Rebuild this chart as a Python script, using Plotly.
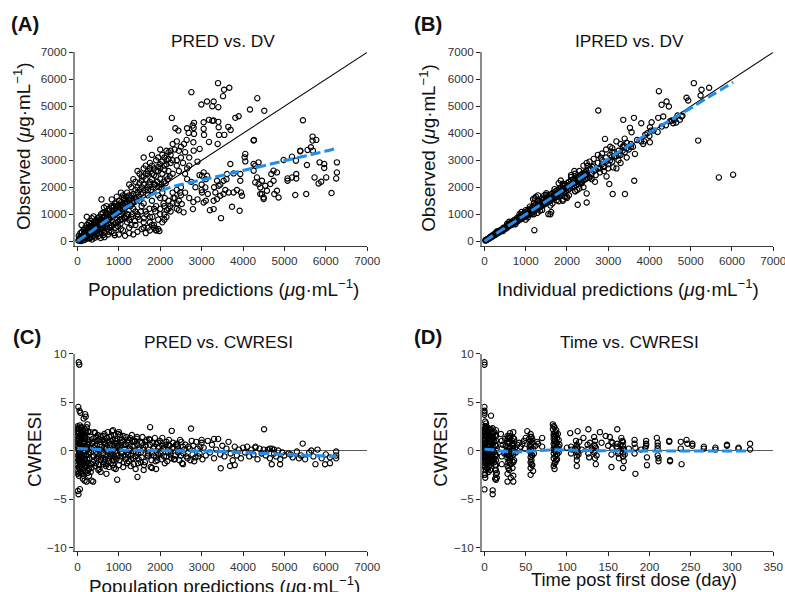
import plotly.graph_objects as go

# ---------------- Panel A : PRED vs DV ----------------
a_pred = [
    20, 40, 60, 80, 100, 120, 140, 160, 180, 200,
    220, 240, 260, 280, 300, 320, 340, 360, 380, 400,
    420, 440, 460, 480, 500, 520, 540, 560, 580, 600,
    30, 70, 110, 150, 190, 230, 270, 310, 350, 390,
    50, 90, 130, 170, 210, 250, 290, 330, 370, 410,
    450, 490, 530, 570, 610, 100, 225, 220, 300, 350,
    420, 500, 560, 620, 650,
    620, 650, 680, 700, 720, 740, 760, 780, 800, 820,
    840, 860, 880, 900, 920, 940, 960, 980, 1000, 1020,
    1040, 1060, 1080, 1100, 1120, 1140, 1160, 1180, 1200, 640,
    700, 760, 830, 880, 950, 1000, 1050, 580, 660, 740,
    820, 900, 700, 800, 900, 1000, 1100, 650, 750, 850,
    950, 1050, 1150, 1250, 1350, 1450, 1550, 1650, 1150, 980,
    1250, 1300, 1350, 1400, 1450, 1500, 1550, 1600, 1650, 1700,
    1750, 1800, 1850, 1900, 1950, 2000, 2050, 2100, 2150, 2200,
    2250, 2300, 2350, 2400, 2450, 2500, 1300, 1400, 1500, 1600,
    1700, 1800, 1900, 2000, 2100, 2200, 2300, 2400, 1350, 1450,
    1550, 1650, 1750, 1850, 1950, 2050, 2150, 2250, 1750, 1600,
    1800, 2000, 2300, 2280, 2150, 2400, 1250, 1200, 1100, 1050,
    1200, 1250, 1300, 1350, 1400, 1450, 1500, 1550, 1600, 1650,
    1700, 1750, 1800, 1850, 1900, 1950, 2000, 2050, 2100, 2150,
    2200, 2250, 2300, 2350, 2400, 2450, 2500, 1300, 1400, 1600,
    1800, 1900, 1950, 1850, 1750, 2000, 2100, 2200, 2300, 2400,
    2500, 2100, 2050, 1700, 1500, 1750, 1900, 1980, 1600, 1850,
    300, 350, 400, 450, 500, 550, 600, 650, 700, 750,
    260, 310, 360, 410, 460, 510, 560, 610, 660, 710,
    800, 850, 900, 950, 1000, 1050, 1100, 1150, 1200, 1250,
    780, 830, 880, 930, 980, 1030, 1080, 1130, 1180, 1230,
    1300, 1350, 1400, 1450, 1500, 1550, 1600, 1650, 1700, 1750,
    1280, 1330, 1380, 1430, 1480, 1530, 1580, 1630, 1680, 1730,
    1800, 1850, 1900, 1950, 2000, 2050, 2100, 2150, 2200, 2250,
    1780, 1830, 1880, 1930, 1980, 2030, 2080, 2130, 2180, 2230,
    1250, 1320, 1390, 1460, 1530, 1600, 1670, 1740, 1810, 1880,
    2000, 2080, 2160, 2240, 2320, 2400, 2480, 1950, 2030, 2110,
    700, 760, 820, 880, 940, 1000, 1060, 1120, 1180, 1240,
    150, 200, 250, 300, 350, 400, 450, 500, 550, 600,
    3396, 2752, 3541, 3669, 3517, 3130, 3290, 2993, 3258, 3403,
    4345, 4168, 4514, 3814, 3894, 3178, 3258, 3290, 3403, 2816,
    3049, 2365, 2438, 2647, 2783, 2807, 2686, 2816, 3049, 3411,
    3645, 3700, 3058, 3420, 3548, 2638, 2800, 2575, 3178, 3387,
    4265, 2807, 2952, 5448, 5680, 5680, 5769, 5640, 5559, 5383,
    5688, 2600, 2700, 2550, 2650, 2900, 2500, 2450, 2600, 2700,
    4256, 4055, 4039, 4055, 5383, 5182, 5279, 4980, 5544, 5849,
    5962, 5962, 6268, 6268, 6251, 6138, 5728, 5825, 5889, 6010,
    5527, 5262, 5182, 5286, 5286, 5076, 5076, 4738, 4820, 4683,
    4738, 4659, 4820, 4755, 4859, 4578, 4498, 4417, 4256, 4296,
    4376, 4256, 4337, 4296, 4376, 4457, 4417, 4538, 4457, 4498,
    3934, 3951, 3975, 3854, 3773, 3652, 3572, 3531, 3451, 3331,
    3372, 3290, 3290, 3734, 3918, 3468, 3049, 3009, 3130, 3089,
    3009, 3049, 3372, 3411, 3531, 3613, 3773, 3934, 3693, 2565,
    2790, 2520, 2450, 2700, 2600, 2900, 2750, 2850, 2650, 2950,
    2800, 3100, 3150, 3200, 3000, 3000, 3100, 3300, 3450, 3600,
]
a_dv = [
    30, 80, 20, 150, 60, 200, 110, 40, 260, 150,
    90, 330, 200, 120, 380, 260, 160, 450, 300, 200,
    520, 380, 260, 600, 450, 300, 700, 520, 350, 800,
    200, 300, 350, 420, 500, 600, 680, 750, 850, 920,
    130, 10, 90, 320, 240, 460, 560, 640, 560, 700,
    780, 860, 900, 1000, 1050, 600, 905, 420, 100, 60,
    130, 180, 120, 220, 150,
    600, 900, 1100, 750, 450, 1000, 1200, 850, 600, 1300,
    950, 700, 1150, 1400, 500, 1050, 800, 1250, 1500, 900,
    650, 1350, 1100, 400, 1600, 1200, 850, 1450, 1000, 1250,
    1300, 350, 1550, 300, 1650, 250, 450, 1550, 300, 250,
    350, 220, 1000, 1000, 1000, 1100, 1300, 700, 800, 1100,
    1300, 1000, 1500, 300, 250, 350, 450, 300, 200, 550,
    1700, 2000, 1500, 2200, 1800, 2500, 2000, 2700, 2300, 1900,
    2900, 2500, 2100, 3000, 2600, 2300, 3200, 2800, 2400, 3300,
    2900, 2500, 3400, 3000, 2600, 3100, 1700, 1600, 1900, 2100,
    2500, 2800, 2400, 2700, 3100, 2600, 3000, 2800, 2300, 2600,
    2400, 2800, 2200, 2700, 3100, 2500, 3000, 3350, 3800, 3100,
    3200, 3400, 3600, 4570, 3350, 3700, 2100, 1800, 1700, 1800,
    700, 500, 900, 1200, 600, 1000, 800, 1300, 700, 1100,
    500, 900, 600, 1200, 400, 800, 1000, 700, 1300, 900,
    1500, 1100, 1400, 1600, 1200, 1500, 1700, 600, 1100, 1400,
    1500, 1300, 450, 500, 700, 1600, 1000, 1200, 1800, 1900,
    2000, 800, 1800, 1700, 1500, 400, 420, 380, 500, 600,
    300, 420, 380, 520, 560, 600, 680, 750, 820, 900,
    180, 240, 300, 330, 380, 420, 450, 500, 520, 560,
    900, 980, 1050, 1150, 1200, 1250, 1350, 1400, 1450, 1550,
    500, 560, 620, 680, 720, 780, 820, 880, 920, 980,
    1600, 1750, 1900, 2000, 2150, 2250, 2400, 2500, 2600, 2700,
    1300, 1400, 1450, 1550, 1650, 1750, 1800, 1900, 2000, 2100,
    2300, 2450, 2600, 2750, 2850, 2950, 2650, 2850, 3050, 3200,
    1900, 2000, 2100, 2200, 2000, 2100, 2200, 2150, 2300, 2400,
    800, 1000, 750, 900, 1100, 850, 1000, 1200, 900, 1100,
    1200, 1400, 1150, 1300, 1600, 1400, 1800, 1700, 2000, 1600,
    1050, 1150, 1250, 1300, 1400, 1350, 1450, 1550, 1650, 1500,
    250, 350, 400, 480, 530, 620, 700, 760, 820, 900,
    5859, 5524, 5613, 5688, 5376, 5178, 5178, 5067, 5004, 4967,
    5301, 4881, 4833, 4572, 4632, 4498, 4461, 4472, 4424, 4387,
    4409, 4186, 4100, 4186, 4286, 4201, 4015, 3978, 4164, 4223,
    4238, 4126, 3941, 3941, 3941, 3755, 3666, 3606, 3680, 3606,
    3755, 3357, 3420, 4483, 3877, 3729, 3755, 3480, 3383, 3357,
    3357, 3300, 3100, 2900, 2700, 2950, 3500, 3350, 2500, 2800,
    3729, 3234, 3108, 2959, 3331, 3133, 2985, 3011, 2825, 2922,
    2862, 2714, 2922, 2550, 2327, 1784, 2364, 2141, 2204, 2364,
    1747, 1710, 2364, 2490, 2327, 2242, 2327, 2613, 2550, 2490,
    2242, 2119, 1870, 1747, 1621, 1870, 1621, 1747, 2862, 2799,
    2922, 2613, 2364, 2178, 2119, 2242, 1993, 2056, 1747, 1561,
    2242, 1807, 1684, 1896, 1807, 1807, 1896, 1747, 1684, 1807,
    1561, 1498, 1190, 1275, 1126, 855, 2550, 2427, 2427, 1993,
    1807, 1435, 2242, 2056, 2242, 2490, 2513, 2490, 2862, 1070,
    1190, 1380, 1150, 1600, 1800, 1550, 2200, 2000, 2300, 2450,
    1450, 1500, 1750, 1150, 1900, 2100, 2300, 2000, 2100, 2300,
]
a_loess_x = [0, 250, 500, 750, 1000, 1250, 1500, 1750, 2000, 2250, 2500, 3000, 3500, 4000, 4500, 5000, 5500, 6000, 6200]
a_loess_y = [0, 270, 550, 820, 1090, 1320, 1520, 1690, 1850, 1995, 2100, 2270, 2440, 2620, 2800, 2980, 3160, 3340, 3420]

# ---------------- Panel B : IPRED vs DV ----------------
b_ipred = [
    20, 45, 60, 85, 110, 130, 160, 175, 200, 230,
    250, 270, 300, 320, 345, 370, 390, 410, 440, 460,
    480, 510, 530, 555, 580, 600, 625, 650, 670, 700,
    720, 740, 770, 790, 815, 840, 860, 885, 905, 930,
    950, 975, 1000, 1020, 1045, 1070, 1090, 1115, 1140, 1160,
    1180, 1210, 1230, 1255, 1280, 1300, 1330, 1350, 1370, 1400,
    1420, 1445, 1470, 1490, 1515, 1540, 1560, 1585, 1610, 1630,
    1655, 1680, 1700, 1725, 1750, 1770, 1795, 1820, 1840, 1865,
    1890, 1910, 1935, 1960, 1980, 2005, 2030, 2050, 2075, 2100,
    2120, 2145, 2170, 2190, 2215, 2240, 2260, 2285, 2310, 2330,
    2355, 2380, 2400, 2425, 2450, 2470, 2495, 2520, 2545, 2570,
    60, 150, 240, 330, 420, 510, 600, 690, 780, 870,
    960, 1050, 1140, 1230, 1320, 1410, 1500, 1590, 1680, 1770,
    1860, 1950, 2040, 2130, 2220, 2310, 2400, 2490, 100, 200,
    300, 450, 600, 750, 900, 1050, 1200, 1350, 1500, 1650,
    1800, 1950, 2100, 2250, 2400, 550, 850, 1150, 1450, 1750,
    1280, 1600, 1900, 2200, 1400, 1700, 2000, 2300, 1000, 1850,
    1180, 1250, 1300, 1220, 1550, 1620, 1900, 2050, 2180, 2350,
    30, 80, 130, 180, 230, 280, 330, 380, 430, 480,
    530, 580, 630, 680, 730, 780, 830, 880, 930, 980,
    1030, 1080, 1130, 1180, 1230, 1280, 1330, 1380, 1430, 1480,
    1530, 1580, 1630, 1680, 1730, 1780, 1830, 1880, 1930, 1980,
    2030, 2080, 2130, 2180, 2230, 2280, 2330, 2380, 2430, 2480,
    1000, 1100, 1200, 1300, 1400, 1500, 1600, 1700, 1800, 1900,
    2000, 2100, 2200, 2300, 2400, 2500, 2200, 2350, 2450, 2550,
    2650, 2750, 2850, 2950, 3050, 3150, 3250, 3350, 3450, 3550,
    2600, 2650, 2700, 2750, 2800, 2850, 2900, 2950, 3000, 3050,
    3100, 3150, 3200, 3250, 3300, 3350, 3400, 3450, 3500, 3550,
    3600, 3700, 3800, 3900, 4000, 4100, 4200, 4300, 4400, 4500,
    2600, 2700, 2800, 2900, 3000, 2650, 2750, 2850, 2950, 3050,
    2550, 2680, 2820, 2960, 3100, 3200, 3250, 3300, 3380, 3450,
    3200, 3300, 3100, 3400, 4600, 4650, 4800, 3950, 2480, 2620,
    2760, 4230, 5077, 5264, 5448, 4900, 4940, 5240, 4416, 4472,
    4295, 3366, 3625, 3802, 3528, 3568, 2923, 5182, 4738, 4682,
    4780, 4537, 4576, 4335, 4213, 4012, 4036, 4053, 4012, 3850,
    3874, 3649, 3085, 3124, 3027, 3109, 3407, 3632, 2479, 2479,
    2261, 1210, 5683, 6029,
]
b_dv = [
    25, 35, 70, 80, 95, 150, 140, 200, 180, 250,
    220, 300, 280, 350, 310, 400, 360, 430, 400, 500,
    450, 530, 470, 600, 540, 650, 580, 690, 610, 760,
    680, 800, 700, 860, 750, 900, 800, 960, 830, 1000,
    880, 1060, 930, 1100, 960, 1170, 1000, 1200, 1050, 1250,
    1100, 1320, 1150, 1380, 1200, 1400, 1240, 1460, 1290, 1520,
    1330, 1560, 1380, 1600, 1420, 1660, 1470, 1700, 1500, 1760,
    1560, 1810, 1590, 1850, 1640, 1900, 1680, 1950, 1720, 2000,
    1770, 2050, 1800, 2100, 1860, 2150, 1900, 2200, 1950, 2260,
    1990, 2290, 2040, 2330, 2080, 2380, 2120, 2420, 2170, 2460,
    2210, 2520, 2250, 2550, 2300, 2600, 2340, 2650, 2390, 2700,
    55, 155, 230, 335, 410, 505, 610, 680, 790, 860,
    975, 1040, 1150, 1220, 1335, 1400, 1510, 1580, 1700, 1760,
    1880, 1930, 2060, 2120, 2240, 2300, 2420, 2480, 105, 195,
    360, 380, 720, 630, 1080, 880, 1420, 1130, 1780, 1400,
    2150, 1650, 2450, 1900, 2800, 650, 1000, 1000, 1700, 1520,
    1050, 1000, 1550, 1850, 1580, 1720, 1600, 1950, 1150, 2250,
    1560, 1650, 1700, 1600, 1004, 1080, 1500, 1700, 2600, 2150,
    40, 70, 140, 170, 240, 260, 340, 370, 430, 470,
    520, 600, 610, 700, 720, 770, 850, 860, 950, 960,
    1050, 1060, 1160, 1160, 1250, 1260, 1360, 1350, 1450, 1460,
    1560, 1550, 1660, 1650, 1760, 1750, 1860, 1850, 1960, 1950,
    2060, 2050, 2170, 2150, 2270, 2250, 2370, 2350, 2470, 2450,
    800, 1280, 1000, 1500, 1160, 1720, 1320, 1930, 1480, 2130,
    1650, 2380, 1850, 2600, 2000, 2800, 2500, 2150, 2550, 2350,
    2600, 2700, 2850, 2950, 3000, 3150, 3200, 3350, 3450, 3500,
    2500, 2800, 2650, 2900, 2700, 3000, 2750, 3100, 2850, 3200,
    2950, 3300, 3150, 3350, 3200, 3500, 3300, 3650, 3400, 3600,
    3500, 3750, 3700, 3950, 3900, 4100, 4050, 4250, 4300, 4450,
    2300, 2450, 2550, 2600, 2700, 3050, 3200, 3250, 3400, 3500,
    2950, 2200, 3100, 2400, 3300, 2700, 3000, 2900, 3550, 3100,
    3700, 3600, 3450, 3800, 4500, 4400, 4650, 4000, 2900, 2750,
    4844, 5561, 5859, 5613, 5688, 5316, 5216, 5400, 5178, 4993,
    5056, 4498, 4572, 4372, 4201, 4037, 3792, 3729, 4498, 4658,
    4621, 4472, 4372, 4621, 4572, 4223, 4100, 4409, 3666, 3606,
    3703, 3234, 3108, 2736, 2119, 1747, 1747, 2242, 1770, 1435,
    1349, 409, 2364, 2465,
]
b_loess_x = [0, 1000, 2000, 3000, 4000, 4500, 5000, 5500, 6030]
b_loess_y = [0, 990, 1990, 3050, 4020, 4480, 4930, 5400, 5890]

identity_x = [0, 7000]
identity_y = [0, 7000]

# ---------------- Panel C : PRED vs CWRESI ----------------
c_pred = [
    5, 12, 3, 18, 8, 25, 10, 15, 4, 20,
    30, 38, 28, 45, 33, 40, 35, 50, 42, 36,
    60, 75, 65, 80, 70, 85, 62, 78, 68, 90,
    110, 125, 105, 130, 115, 140, 120, 135, 100, 128,
    170, 185, 160, 190, 175, 200, 165, 195, 180, 172,
    240, 255, 230, 260, 245, 270, 235, 265, 250, 280,
    15, 55, 95, 145, 210, 275, 22, 88, 160, 230,
    8, 22, 35, 48, 58, 72, 95, 115, 140, 165,
    185, 205, 225, 245, 265, 285, 12, 40, 85, 150,
    5, 18, 32, 52, 68, 82, 100, 118, 138, 158,
    178, 198, 218, 238, 258, 278, 298, 318, 338, 358,
    310, 340, 370, 400, 430, 460, 490, 520, 550, 580,
    320, 355, 385, 415, 445, 475, 505, 535, 565, 595,
    380, 410, 440, 470, 500, 530, 560, 590, 620, 650,
    395, 425, 455, 485, 515, 545, 575, 605, 635, 665,
    610, 640, 670, 700, 730, 760, 790, 820, 850, 880,
    625, 655, 685, 715, 745, 775, 805, 835, 865, 895,
    680, 710, 740, 770, 800, 830, 860, 890, 920, 950,
    695, 725, 755, 785, 815, 845, 875, 905, 935, 965,
    910, 940, 970, 1000, 1030, 1060, 1090, 1120, 1150, 1180,
    925, 955, 985, 1015, 1045, 1075, 1105, 1135, 1165, 1195,
    990, 1020, 1050, 1080, 1110, 1140, 1170, 1200, 1230, 1260,
    1210, 1240, 1270, 1300, 1330, 1360, 1390, 1420, 1450, 1480,
    1225, 1255, 1285, 1315, 1345, 1375, 1405, 1435, 1465, 1495,
    1290, 1320, 1350, 1380, 1410, 1440, 1470, 1500, 1530, 1560,
    860, 880, 700, 560, 420, 380, 340, 960, 1450, 1000,
    1510, 1550, 1590, 1630, 1670, 1710, 1750, 1790, 1830, 1870,
    1530, 1570, 1610, 1650, 1690, 1730, 1770, 1810, 1850, 1890,
    1600, 1650, 1700, 1750, 1800, 1850, 1900, 1950, 2000, 2050,
    1910, 1950, 1990, 2030, 2070, 2110, 2150, 2190, 2230, 2270,
    1930, 1970, 2010, 2050, 2090, 2130, 2170, 2210, 2250, 2290,
    2100, 2150, 2200, 2250, 2300, 2350, 2400, 2450, 2500, 2550,
    2310, 2360, 2410, 2460, 2510, 2560, 2610, 2660, 2710, 2760,
    2330, 2380, 2430, 2480, 2530, 2580, 2630, 2680, 2730, 2780,
    2800, 2850, 2900, 2950, 3000, 2820, 2870, 2920, 2970, 3020,
    1755, 2278, 2744, 1800, 1900, 2550, 1600,
    3050, 3100, 3150, 3200, 3250, 3300, 3350, 3400, 3450, 3500,
    3550, 3600, 3650, 3700, 3750, 3800, 3850, 3900, 3950, 4000,
    4050, 4100, 4150, 4200, 4250, 4300, 4350, 4400, 4450, 4500,
    4550, 4600, 4650, 4700, 4750, 4800, 4850, 4900, 4950, 5000,
    5100, 5200, 5300, 5400, 5500, 5600, 5700, 5800, 5900, 6000,
    6100, 6250, 6250, 6250, 5650, 5750, 5350, 5150, 4750, 4650,
    3462, 3687, 4694, 4895, 5982, 4508, 5442, 3300, 3000, 6100,
    4300, 3800,
    30, 45, 20, 50, 70, 186, 200, 10, 25, 60,
    150, 220,
]
c_cwres = [
    2.5, 2.0, 1.5, 1.0, 0.5, 0.0, -0.5, -1.0, -1.5, -2.1,
    2.3, 1.8, 1.2, 0.7, 0.2, -0.3, -0.8, -1.3, -1.8, -2.6,
    2.6, 2.1, 1.6, 1.1, 0.6, 0.1, -0.4, -0.9, -1.6, -2.3,
    2.4, 1.9, 1.3, 0.8, 0.3, -0.2, -0.7, -1.2, -1.9, -2.9,
    2.2, 1.6, 1.0, 0.5, 0.0, -0.5, -1.0, -1.5, -2.1, -3.1,
    2.7, 1.9, 1.2, 0.6, 0.1, -0.4, -0.9, -1.4, -2.0, -2.6,
    0.3, -0.2, 0.4, -0.1, 0.35, -0.15, 1.3, -1.1, 1.4, -1.2,
    1.75, -1.75, 2.2, -2.3, 0.85, -0.65, 1.8, -2.4, 2.1, -1.8,
    1.3, -1.3, 2.4, -2.3, 0.9, -0.8, -2.4, -1.1, 0.35, -0.45,
    2.3, 0.8, -0.55, 1.45, -1.2, 2.35, -1.7, 1.6, -2.6, 0.65,
    -0.85, 1.9, -1.6, 0.4, 2.0, -1.9, 1.1, -0.2, -1.4, 0.7,
    1.9, -1.8, 1.2, -1.0, 0.5, -0.4, 1.6, -1.5, 0.9, -0.7,
    -2.2, 0.8, -0.6, 1.9, -1.3, 0.2, -2.0, 1.2, -0.9, 0.4,
    -1.2, 0.3, 1.4, -0.8, 0.1, -1.9, 1.5, 0.0, -1.4, 1.7,
    0.9, -1.6, -0.1, 1.0, -0.6, 0.6, -1.0, 1.1, 0.3, -0.9,
    1.5, -1.2, 0.7, -0.5, 1.9, -1.7, 0.3, -0.2, 1.1, -1.0,
    -0.3, 0.9, -1.6, 1.3, -0.8, 0.6, -1.3, 2.0, -0.4, 0.8,
    0.2, 1.0, -1.1, 1.4, -0.6, 0.5, -1.5, 1.6, -0.1, 0.7,
    -1.4, -0.1, 0.9, -0.4, 1.5, -1.0, 0.1, -0.7, 1.0, -0.5,
    1.2, -0.9, 0.5, -1.5, 1.6, -0.3, 0.9, -1.2, 0.2, 1.4,
    -1.9, 0.3, 1.7, 0.1, -0.6, 1.1, -1.7, 0.6, -0.9, -0.2,
    0.4, -1.0, 0.8, -0.2, 1.5, -0.5, 0.6, -1.3, 1.1, 0.0,
    0.8, -1.1, 1.3, -0.5, 0.4, -1.4, 1.0, -0.2, 0.6, -0.9,
    -0.4, 0.2, -1.6, 1.6, -0.8, 0.9, -1.9, 1.2, -1.3, 0.1,
    -0.9, 1.0, -0.1, 0.5, -0.6, 1.4, -0.3, 0.3, -1.2, 0.8,
    2.1, -1.8, -2.4, -2.2, 1.8, -3.2, -3.1, -3.0, -2.72, 1.9,
    0.9, -0.7, 0.3, -1.2, 1.1, -0.3, 0.6, -1.0, 0.2, 1.3,
    -0.2, 1.4, -1.5, 0.5, -0.6, 1.2, -1.7, 0.8, -0.5, -1.1,
    0.1, 0.9, -0.5, 1.1, -0.2, 0.4, -0.7, 0.8, -0.1, 0.5,
    0.7, -0.4, 1.0, -0.9, 0.3, -1.3, 0.9, -0.2, 0.5, -0.8,
    -1.0, 0.4, -0.3, 1.3, -0.6, 0.6, -1.1, 1.1, -0.4, 0.2,
    0.2, -0.6, 0.6, -0.1, 0.3, -0.9, 0.7, 0.0, -0.5, 0.4,
    0.8, -0.5, 0.4, -1.0, 0.9, -0.3, 0.6, -0.8, 0.2, 1.0,
    -0.9, 0.6, -0.2, 1.1, -1.3, 0.1, -0.6, 0.4, -1.0, -0.4,
    0.5, -0.7, 0.2, -0.3, 0.8, -1.1, 0.9, -0.6, 0.4, -0.9,
    2.41, 2.03, 2.27, -1.8, -1.9, -1.4, -2.0,
    0.3, -0.5, 1.0, -0.2, 0.6, -0.8, 0.1, 1.2, -0.4, 0.5,
    -0.6, 0.2, 0.9, -0.3, -1.0, 0.4, -0.5, 0.1, -0.8, 0.3,
    -0.2, 0.4, -0.6, 0.1, -0.4, 0.3, -0.9, 0.2, -0.3, 0.1,
    -0.5, 0.1, -0.8, 0.2, -0.3, -0.6, 0.0, -0.9, -0.2, -0.5,
    -0.3, -0.7, -0.1, -0.5, -0.9, -0.2, -0.6, 0.1, -0.8, -0.4,
    -0.7, -0.1, -0.5, -0.8, 0.0, -1.4, -0.8, -0.4, 0.1, 0.2,
    -1.83, -1.59, -1.41, -1.41, -1.41, 2.2, 0.72, 1.2, 1.1, -1.3,
    0.4, -1.5,
    9.1, 8.86, 4.5, 4.1, 3.9, 3.75, 3.5, -4.17, -4.5, -3.98,
    3.3, -3.2,
]
c_loess_x = [0, 500, 1000, 1500, 2000, 2500, 3000, 3500, 4000, 4500, 5000, 5500, 6000, 6250]
c_loess_y = [0.2, 0.12, 0.05, 0.02, 0.0, -0.03, -0.06, -0.1, -0.2, -0.3, -0.41, -0.48, -0.56, -0.6]

# ---------------- Panel D : Time vs CWRESI ----------------
d_time = [
    0, 0, 0, 0, 0, 0, 0, 0, 0, 0,
    1, 1, 1, 1, 1, 1, 1, 1, 1, 1,
    2, 2, 2, 2, 2, 2, 3, 3, 3, 3,
    4, 4, 4, 4, 4, 5, 5, 5, 5, 5,
    6, 6, 6, 6, 7, 7, 7, 7, 7, 8,
    8, 8, 8, 9, 9, 9, 10, 10, 10, 11,
    11, 12, 12, 13, 13, 14, 14, 14, 14, 14,
    14, 15, 14, 15, 13, 12, 21, 21, 21, 21,
    0, 0, 0, 0, 0, 0, 0, 0, 0, 1,
    1, 1, 1, 1, 2, 2, 2, 2, 2, 3,
    3, 3, 3, 4, 4, 4, 5, 5, 5, 6,
    6, 6, 7, 7, 8, 8, 9, 9, 10, 10,
    11, 11, 12, 12, 13, 13, 14, 14, 14, 14,
    20, 22, 24, 25, 26, 27, 28, 28, 28, 28,
    28, 28, 28, 29, 29, 29, 30, 30, 30, 30,
    31, 31, 31, 32, 32, 33, 33, 34, 34, 35,
    35, 35, 35, 35, 36, 36, 37, 38, 40, 42,
    28, 28, 29, 29, 30, 30, 31, 31, 34, 35,
    35, 35, 34, 33, 56, 56, 56, 57, 57, 58,
    44, 46, 48, 49, 50, 52, 54, 55, 56, 56,
    56, 56, 56, 56, 56, 56, 57, 57, 57, 58,
    58, 58, 59, 59, 60, 70, 70, 65, 62, 64,
    83, 83, 84, 84, 84, 84, 84, 84, 85, 85,
    85, 85, 85, 86, 86, 86, 86, 87, 87, 87,
    88, 88, 88, 89, 89, 90, 90, 90, 91, 84,
    84, 84, 85, 85, 86, 86, 87, 87, 88, 88,
    100, 104, 105, 105, 106, 110, 111, 112, 112, 112,
    112, 112, 113, 113, 114, 115, 118, 120, 125, 126,
    126, 126, 127, 128, 130, 133, 133, 133, 134, 134,
    135, 135, 136, 140, 142, 147, 150, 152, 154, 154,
    154, 155, 155, 160, 161, 161, 162, 163, 165, 166,
    167, 168, 168, 168, 168, 169, 169, 170, 175, 182,
    112, 113, 133, 134, 161, 162, 168, 168, 196, 210,
    182, 182, 183, 183, 190, 195, 196, 196, 197, 197,
    209, 210, 210, 210, 211, 211, 224, 224, 225, 225,
    238, 238, 239, 245, 246, 252, 252, 266, 266, 280,
    280, 294, 294, 308, 308, 322, 322, 0, 0, 0,
    0, 0, 0, 8, 10, 10, 0, 1, 2, 13,
]
d_cwres = [
    2.5, 2.0, 1.5, 1.0, 0.5, 0.0, -0.5, -1.0, -1.5, -2.0,
    2.3, 1.7, 1.2, 0.7, 0.2, -0.3, -0.8, -1.3, -2.5, -2.8,
    2.2, 1.4, 0.8, 0.3, -0.2, -1.1, 2.0, 0.6, -0.6, -1.8,
    1.9, 1.1, 0.4, -0.4, -1.4, 2.3, 1.3, 0.1, -0.7, -2.2,
    1.6, 0.5, -0.6, -1.6, 2.1, 1.0, 0.2, -0.9, -2.0, 1.5,
    0.3, -0.5, -1.3, 1.8, 0.0, -1.0, 2.3, 0.7, -0.3, 1.2,
    -0.8, 1.9, -0.2, 0.6, -1.5, 2.1, 1.0, 0.0, -1.0, -2.0,
    -2.5, -2.8, -3.0, -2.3, -2.0, -1.2, 1.0, 0.2, -0.6, -1.4,
    2.2, 1.7, 1.2, 0.7, 0.2, -0.2, -0.7, -1.2, -2.5, 1.9,
    1.0, 0.4, -0.5, -1.7, 2.5, 1.7, 0.1, -0.8, -2.0, 2.4,
    1.4, -0.2, -1.3, 2.1, -0.1, -1.9, 1.7, 0.5, -1.2, 2.2,
    1.0, -0.2, 1.5, -0.4, 2.2, 0.8, 1.1, -0.5, 1.5, -1.1,
    1.8, 0.3, 0.9, -0.9, 1.6, -0.4, 1.5, 0.5, -0.5, -1.5,
    1.7, 0.6, -0.3, 1.2, 0.5, -0.2, 1.5, 0.8, 0.0, -0.8,
    -1.6, -2.4, -3.2, 1.3, -0.5, -1.2, 0.9, 0.2, -1.0, -2.0,
    1.8, 0.4, -0.6, -1.4, -2.8, 1.1, -0.3, 0.7, -1.8, -3.2,
    1.9, 0.5, -0.4, -2.6, 1.2, -1.0, 0.3, -0.2, 0.6, 0.8,
    1.2, -0.4, 0.4, -1.8, 1.5, -0.4, 1.3, -1.0, 0.2, 1.3,
    0.0, -1.2, -1.1, 0.6, 1.4, 0.7, 0.1, -0.4, -1.4, 1.2,
    0.4, 0.7, 1.0, 0.2, 1.3, 2.0, 1.2, 0.6, 1.7, 1.0,
    0.4, -0.2, -0.7, -1.2, -1.8, -2.5, 1.4, 0.0, -1.0, 0.8,
    -0.5, -1.5, 0.2, -2.1, -0.3, 1.3, 0.4, 0.7, 0.5, 0.9,
    2.7, 2.2, 1.7, 1.2, 0.7, 0.2, -0.3, -0.8, -1.3, -1.9,
    2.4, 1.5, 0.5, 1.9, 1.0, -0.1, -0.6, 2.1, 0.8, -1.0,
    1.3, 0.3, -0.4, 1.7, 0.0, 1.1, 0.4, -0.2, 0.6, -1.6,
    2.5, 1.5, 0.95, 0.0, -1.2, 1.4, 1.6, 0.3, -0.9, 0.8,
    0.3, 1.8, 0.4, -0.3, 0.1, 0.2, 1.0, 0.6, -0.1, -0.6,
    -1.0, -1.6, 2.0, 0.3, -0.4, 0.9, 0.1, 1.3, 0.6, 2.2,
    0.2, -0.3, -0.7, 0.8, 0.1, 1.4, 0.6, -0.2, -0.8, 1.0,
    0.3, -1.4, -0.5, 1.9, 0.8, 1.5, 0.5, 1.4, 0.9, -0.4,
    -1.7, 0.2, 0.8, 0.4, 2.2, 0.3, -0.3, -0.8, 0.6, 1.3,
    1.0, 0.5, -0.2, -0.6, -1.8, 0.1, -1.1, -0.4, 0.2, 1.1,
    0.35, -0.2, 0.0, 0.45, 0.7, -0.1, 0.9, 0.2, 0.7, 0.5,
    0.7, -0.3, 0.3, -2.4, 0.1, 0.3, 1.0, 0.5, -0.7, -1.5,
    1.3, 0.8, 0.2, -0.5, -0.8, -1.1, 1.0, 0.9, -1.0, -1.1,
    0.9, 0.2, -1.4, 1.1, 0.7, 0.7, 0.5, 0.4, 0.2, 0.3,
    0.1, 0.6, 0.5, 0.3, 0.2, 0.7, 0.1, 9.1, 8.85, 4.5,
    4.1, 3.9, 3.7, 3.6, -4.1, -4.5, -4.0, 3.0, 2.8, -2.9,
]
d_loess_x = [0, 10, 20, 35, 50, 65, 85, 110, 150, 200, 250, 322]
d_loess_y = [0.13, 0.07, -0.05, -0.14, -0.1, 0.0, 0.07, 0.03, -0.02, -0.05, -0.05, -0.05]

conc_ticks = [0, 1000, 2000, 3000, 4000, 5000, 6000, 7000]
cwres_ticks = [-10, -5, 0, 5, 10]
time_ticks = [0, 50, 100, 150, 200, 250, 300, 350]

assert len(a_pred) == len(a_dv)
assert len(b_ipred) == len(b_dv)
assert len(c_pred) == len(c_cwres)
assert len(d_time) == len(d_cwres)

# ---------------- figure ----------------
# The page is captured slightly scaled (about 0.982) with a small vertical
# offset, so the layout is laid out in page pixels derived from target pixels.
W, H = 798, 600
S = 0.982
OX, OY = 0.5, 6.8
FONT = "Liberation Sans, Arial, Helvetica, sans-serif"
BLUE = "#1f8ef0"


def px_x(p):
    return ((p - OX) / S) / W


def px_y(p):
    return 1 - ((p - OY) / S) / H


def fs(v):
    return v / S


fig = go.Figure()

panels = [
    ("x", "y", a_pred, a_dv, a_loess_x, a_loess_y, True),
    ("x2", "y2", b_ipred, b_dv, b_loess_x, b_loess_y, True),
    ("x3", "y3", c_pred, c_cwres, c_loess_x, c_loess_y, False),
    ("x4", "y4", d_time, d_cwres, d_loess_x, d_loess_y, False),
]
for xa, ya, xs, ys, lx, ly, ident in panels:
    if ident:
        fig.add_trace(go.Scatter(x=identity_x, y=identity_y, mode="lines", xaxis=xa, yaxis=ya,
                                 line=dict(color="black", width=fs(1)), hoverinfo="skip", showlegend=False))
    fig.add_trace(go.Scatter(x=xs, y=ys, mode="markers", xaxis=xa, yaxis=ya,
                             marker=dict(symbol="circle-open", size=fs(5.2), color="black",
                                         line=dict(width=fs(1.1), color="black")),
                             hoverinfo="skip", showlegend=False))
    fig.add_trace(go.Scatter(x=lx, y=ly, mode="lines", xaxis=xa, yaxis=ya,
                             line=dict(color=BLUE, width=fs(3), dash="10px,4px", shape="spline"),
                             hoverinfo="skip", showlegend=False))


def xaxis(domain, rng, ticks, anchor):
    return dict(domain=domain, range=rng, tickvals=ticks, anchor=anchor,
                showline=True, linecolor="#3c3c3c", linewidth=1,
                ticks="outside", ticklen=4, tickwidth=1, tickcolor="#222",
                tickfont=dict(family=FONT, size=fs(11.5), color="#333"),
                showgrid=False, zeroline=False, ticklabeloverflow="allow",
                fixedrange=True)


def yaxis(domain, rng, ticks, anchor, zero):
    d = dict(domain=domain, range=rng, tickvals=ticks, anchor=anchor,
             showline=True, linecolor="#8a8a8a", linewidth=2,
             ticks="outside", ticklen=4, tickwidth=1, tickcolor="#222",
             tickfont=dict(family=FONT, size=fs(11.5), color="#333"),
             showgrid=False, zeroline=zero, ticklabeloverflow="allow",
             fixedrange=True)
    if zero:
        d.update(zerolinecolor="#5a5a5a", zerolinewidth=1.5)
    return d


xdomL = [px_x(74.7), px_x(367)]
xdomR = [px_x(482), px_x(773.3)]
ydomT = [px_y(244.6), px_y(52)]
ydomB = [px_y(549.6), px_y(352.3)]

fig.update_layout(
    width=W, height=H, autosize=False,
    margin=dict(l=0, r=0, t=0, b=0),
    paper_bgcolor="white", plot_bgcolor="white",
    font=dict(family=FONT, color="#222"),
    showlegend=False,
    xaxis=xaxis(xdomL, [-56, 7000], conc_ticks, "y"),
    yaxis=yaxis(ydomT, [-160, 7000], conc_ticks, "x", False),
    xaxis2=xaxis(xdomR, [-56, 7000], conc_ticks, "y2"),
    yaxis2=yaxis(ydomT, [-160, 7000], conc_ticks, "x2", False),
    xaxis3=xaxis(xdomL, [-56, 7000], conc_ticks, "y3"),
    yaxis3=yaxis(ydomB, [-10.4, 10], cwres_ticks, "x3", True),
    xaxis4=xaxis(xdomR, [-2.8, 350], time_ticks, "y4"),
    yaxis4=yaxis(ydomB, [-10.4, 10], cwres_ticks, "x4", True),
)

conc_unit = "(<i>μ</i>g·mL<sup>−1</sup>)"
ann = []


def text(x, y, t, size, bold=False, angle=0):
    ann.append(dict(x=px_x(x), y=px_y(y), xref="paper", yref="paper", text=("<b>%s</b>" % t) if bold else t,
                    showarrow=False, xanchor="center", yanchor="middle", textangle=angle,
                    font=dict(family=FONT, size=fs(size), color="#111")))


# panel labels
text(25, 24, "(A)", 20, bold=True)
text(428, 24, "(B)", 20, bold=True)
text(27, 336, "(C)", 20, bold=True)
text(428, 336, "(D)", 20, bold=True)
# titles
text(223, 41, "PRED vs. DV", 17)
text(630, 41, "IPRED vs. DV", 17)
text(218, 341, "PRED vs. CWRESI", 17)
text(630, 341, "Time vs. CWRESI", 17)
# x titles
text(223, 287, "Population predictions " + conc_unit, 18.5)
text(628, 287, "Individual predictions " + conc_unit, 18.5)
text(224, 583, "Population predictions " + conc_unit, 18.5)
text(634, 577.5, "Time post first dose (day)", 18)
# y titles
text(21, 145, "Observed " + conc_unit, 18.5, angle=-90)
text(427, 147, "Observed " + conc_unit, 18.5, angle=-90)
text(34, 448, "CWRESI", 18.5, angle=-90)
text(440, 448, "CWRESI", 18.5, angle=-90)

fig.update_layout(annotations=ann)

fig.write_html(
    "out.html",
    config={"displayModeBar": False, "staticPlot": True},
    post_script=(
        "var h=document.documentElement,b=document.body;"
        "h.style.margin='0';h.style.padding='0';h.style.overflow='hidden';"
        "b.style.margin='0';b.style.padding='0';b.style.overflow='hidden';"
        "var d=document.getElementById('{plot_id}');"
        "d.style.position='absolute';d.style.left='0px';d.style.top='0px';"
    ),
)
